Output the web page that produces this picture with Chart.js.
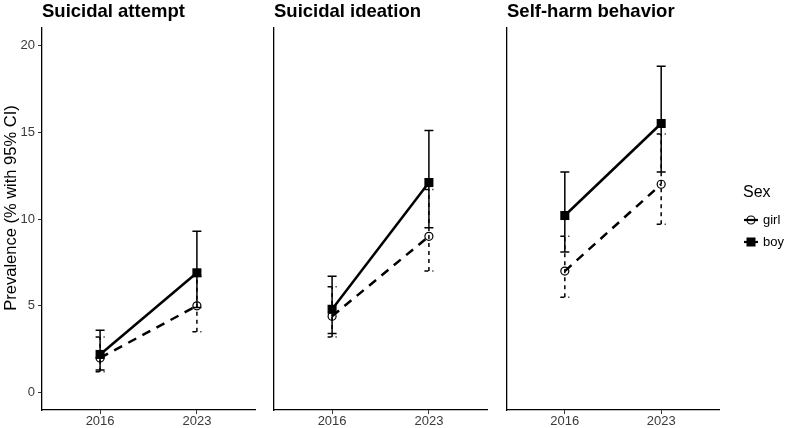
<!DOCTYPE html>
<html>
<head>
<meta charset="utf-8">
<script src="https://cdn.jsdelivr.net/npm/chart.js@4.4.0/dist/chart.umd.min.js"></script>
<style>
  body { margin: 0; background: #fff; }
  #wrap { position: relative; width: 794px; height: 428px; overflow: hidden; }
  #wrap canvas { position: absolute; top: 0; }
</style>
</head>
<body>
<div id="wrap">
  <canvas id="p0" width="262" height="428" style="left:0px"></canvas>
  <canvas id="p1" width="228" height="428" style="left:266px"></canvas>
  <canvas id="p2" width="295" height="428" style="left:499px"></canvas>
</div>
<script>
// data
const years = ['2016', '2023'];
const panelTitles = ['Suicidal attempt', 'Suicidal ideation', 'Self-harm behavior'];
const yTicks = [0, 5, 10, 15, 20];

const girlValues = [[2.0, 5.0], [4.4, 9.0], [7.0, 12.0]];
const girlLower  = [[1.2, 3.5], [3.2, 7.0], [5.5, 9.7]];
const girlUpper  = [[3.2, 6.7], [6.1, 11.7], [9.0, 14.9]];

const boyValues = [[2.2, 6.9], [4.8, 12.1], [10.2, 15.5]];
const boyLower  = [[1.3, 4.9], [3.4, 9.5], [8.1, 12.7]];
const boyUpper  = [[3.6, 9.3], [6.7, 15.1], [12.7, 18.8]];

const FONT = '"Liberation Sans", Arial, sans-serif';

// error bars drawn under the lines
const errorBars = {
    id: 'errorBars',
    beforeDatasetsDraw(chart) {
        const ctx = chart.ctx;
        const x = chart.scales.x, y = chart.scales.y;
        // girl first, boy on top
        chart.data.datasets.slice().reverse().forEach(ds => {
            ctx.save();
            ctx.strokeStyle = '#000';
            ctx.lineWidth = 1.5;
            ctx.setLineDash(ds.barDash);
            ds.data.forEach((p, k) => {
                const px = x.getPixelForValue(p.x);
                const lo = y.getPixelForValue(ds.lower[k]);
                const hi = y.getPixelForValue(ds.upper[k]);
                ctx.beginPath();
                ctx.moveTo(px, lo); ctx.lineTo(px, hi);
                ctx.moveTo(px - 4.5, lo); ctx.lineTo(px + 4.5, lo);
                ctx.moveTo(px - 4.5, hi); ctx.lineTo(px + 4.5, hi);
                ctx.stroke();
            });
            ctx.restore();
        });
    }
};

// strip title, y title and legend
const extras = {
    id: 'extras',
    afterDraw(chart, args, opts) {
        const ctx = chart.ctx;
        const area = chart.chartArea;
        ctx.save();
        ctx.fillStyle = '#000';
        ctx.font = 'bold 18.5px ' + FONT;
        ctx.textAlign = 'left';
        ctx.textBaseline = 'alphabetic';
        ctx.fillText(opts.title, area.left, 17);

        if (opts.yTitle) {
            ctx.save();
            ctx.translate(11, 208);
            ctx.rotate(-Math.PI / 2);
            ctx.font = '16.5px ' + FONT;
            ctx.textAlign = 'center';
            ctx.textBaseline = 'middle';
            ctx.fillText(opts.yTitle, 0, 0);
            ctx.restore();
        }

        if (opts.legend) {
            const lx = area.right + 24;
            ctx.font = '16px ' + FONT;
            ctx.textBaseline = 'middle';
            ctx.fillText('Sex', lx, 193);
            ctx.font = '13px ' + FONT;
            chart.data.datasets.slice().reverse().forEach((ds, i) => {
                const cy = 220 + i * 22;
                ctx.lineWidth = 2.2;
                ctx.setLineDash([]);
                ctx.strokeStyle = '#000';
                ctx.beginPath();
                ctx.moveTo(lx + 1, cy); ctx.lineTo(lx + 15, cy);
                ctx.stroke();
                if (ds.pointStyle === 'rect') {
                    ctx.fillRect(lx + 3.5, cy - 4.5, 9, 9);
                } else {
                    ctx.lineWidth = 1.2;
                    ctx.beginPath();
                    ctx.arc(lx + 8, cy, 4, 0, Math.PI * 2);
                    ctx.stroke();
                }
                ctx.fillText(ds.label, lx + 20, cy);
            });
        }
        ctx.restore();
    }
};

function points(vals) {
    return vals.map((v, k) => ({ x: k + 1, y: v }));
}

function makePanel(id, i, yWidth, rightPad) {
    const first = i === 0;
    return new Chart(document.getElementById(id), {
        type: 'line',
        data: {
            datasets: [
                {
                    label: 'boy',
                    data: points(boyValues[i]),
                    lower: boyLower[i],
                    upper: boyUpper[i],
                    barDash: [],
                    borderColor: '#000',
                    borderWidth: 2.5,
                    pointStyle: 'rect',
                    pointRadius: 6.4,
                    pointBackgroundColor: '#000',
                    pointBorderColor: '#000',
                    pointBorderWidth: 0
                },
                {
                    label: 'girl',
                    data: points(girlValues[i]),
                    lower: girlLower[i],
                    upper: girlUpper[i],
                    barDash: [4, 4],
                    borderColor: '#000',
                    borderWidth: 2.5,
                    borderDash: [9, 7],
                    pointStyle: 'circle',
                    pointRadius: 4,
                    pointBackgroundColor: 'rgba(0,0,0,0)',
                    pointBorderColor: '#000',
                    pointBorderWidth: 1.2
                }
            ]
        },
        options: {
            responsive: false,
            animation: false,
            events: [],
            layout: { padding: { left: 0, right: rightPad, top: 28, bottom: 0 } },
            plugins: {
                legend: { display: false },
                tooltip: { enabled: false },
                extras: {
                    title: panelTitles[i],
                    yTitle: first ? 'Prevalence (% with 95% CI)' : null,
                    legend: i === 2
                }
            },
            scales: {
                x: {
                    type: 'linear',
                    min: 0.4,
                    max: 2.6,
                    afterBuildTicks: s => { s.ticks = years.map((yr, k) => ({ value: k + 1 })); },
                    afterFit: s => { s.height = 18; },
                    border: { display: true, color: '#000', width: 1.3 },
                    grid: { drawOnChartArea: false, drawTicks: true, tickLength: 4, color: '#333' },
                    ticks: {
                        color: '#3a3a3a',
                        padding: 0,
                        maxRotation: 0,
                        font: { family: FONT, size: 13 },
                        callback: v => years[v - 1]
                    }
                },
                y: {
                    min: -1,
                    max: 21,
                    afterBuildTicks: s => { s.ticks = yTicks.map(v => ({ value: v })); },
                    afterFit: s => { s.width = yWidth; },
                    border: { display: true, color: '#000', width: 1.3 },
                    grid: { drawOnChartArea: false, drawTicks: first, tickLength: 4, color: '#333' },
                    ticks: {
                        display: first,
                        color: '#3a3a3a',
                        padding: 3,
                        font: { family: FONT, size: 13 }
                    }
                }
            }
        },
        plugins: [errorBars, extras]
    });
}

makePanel('p0', 0, 42, 7);
makePanel('p1', 1, 8, 7);
makePanel('p2', 2, 8, 75);
</script>
</body>
</html>
